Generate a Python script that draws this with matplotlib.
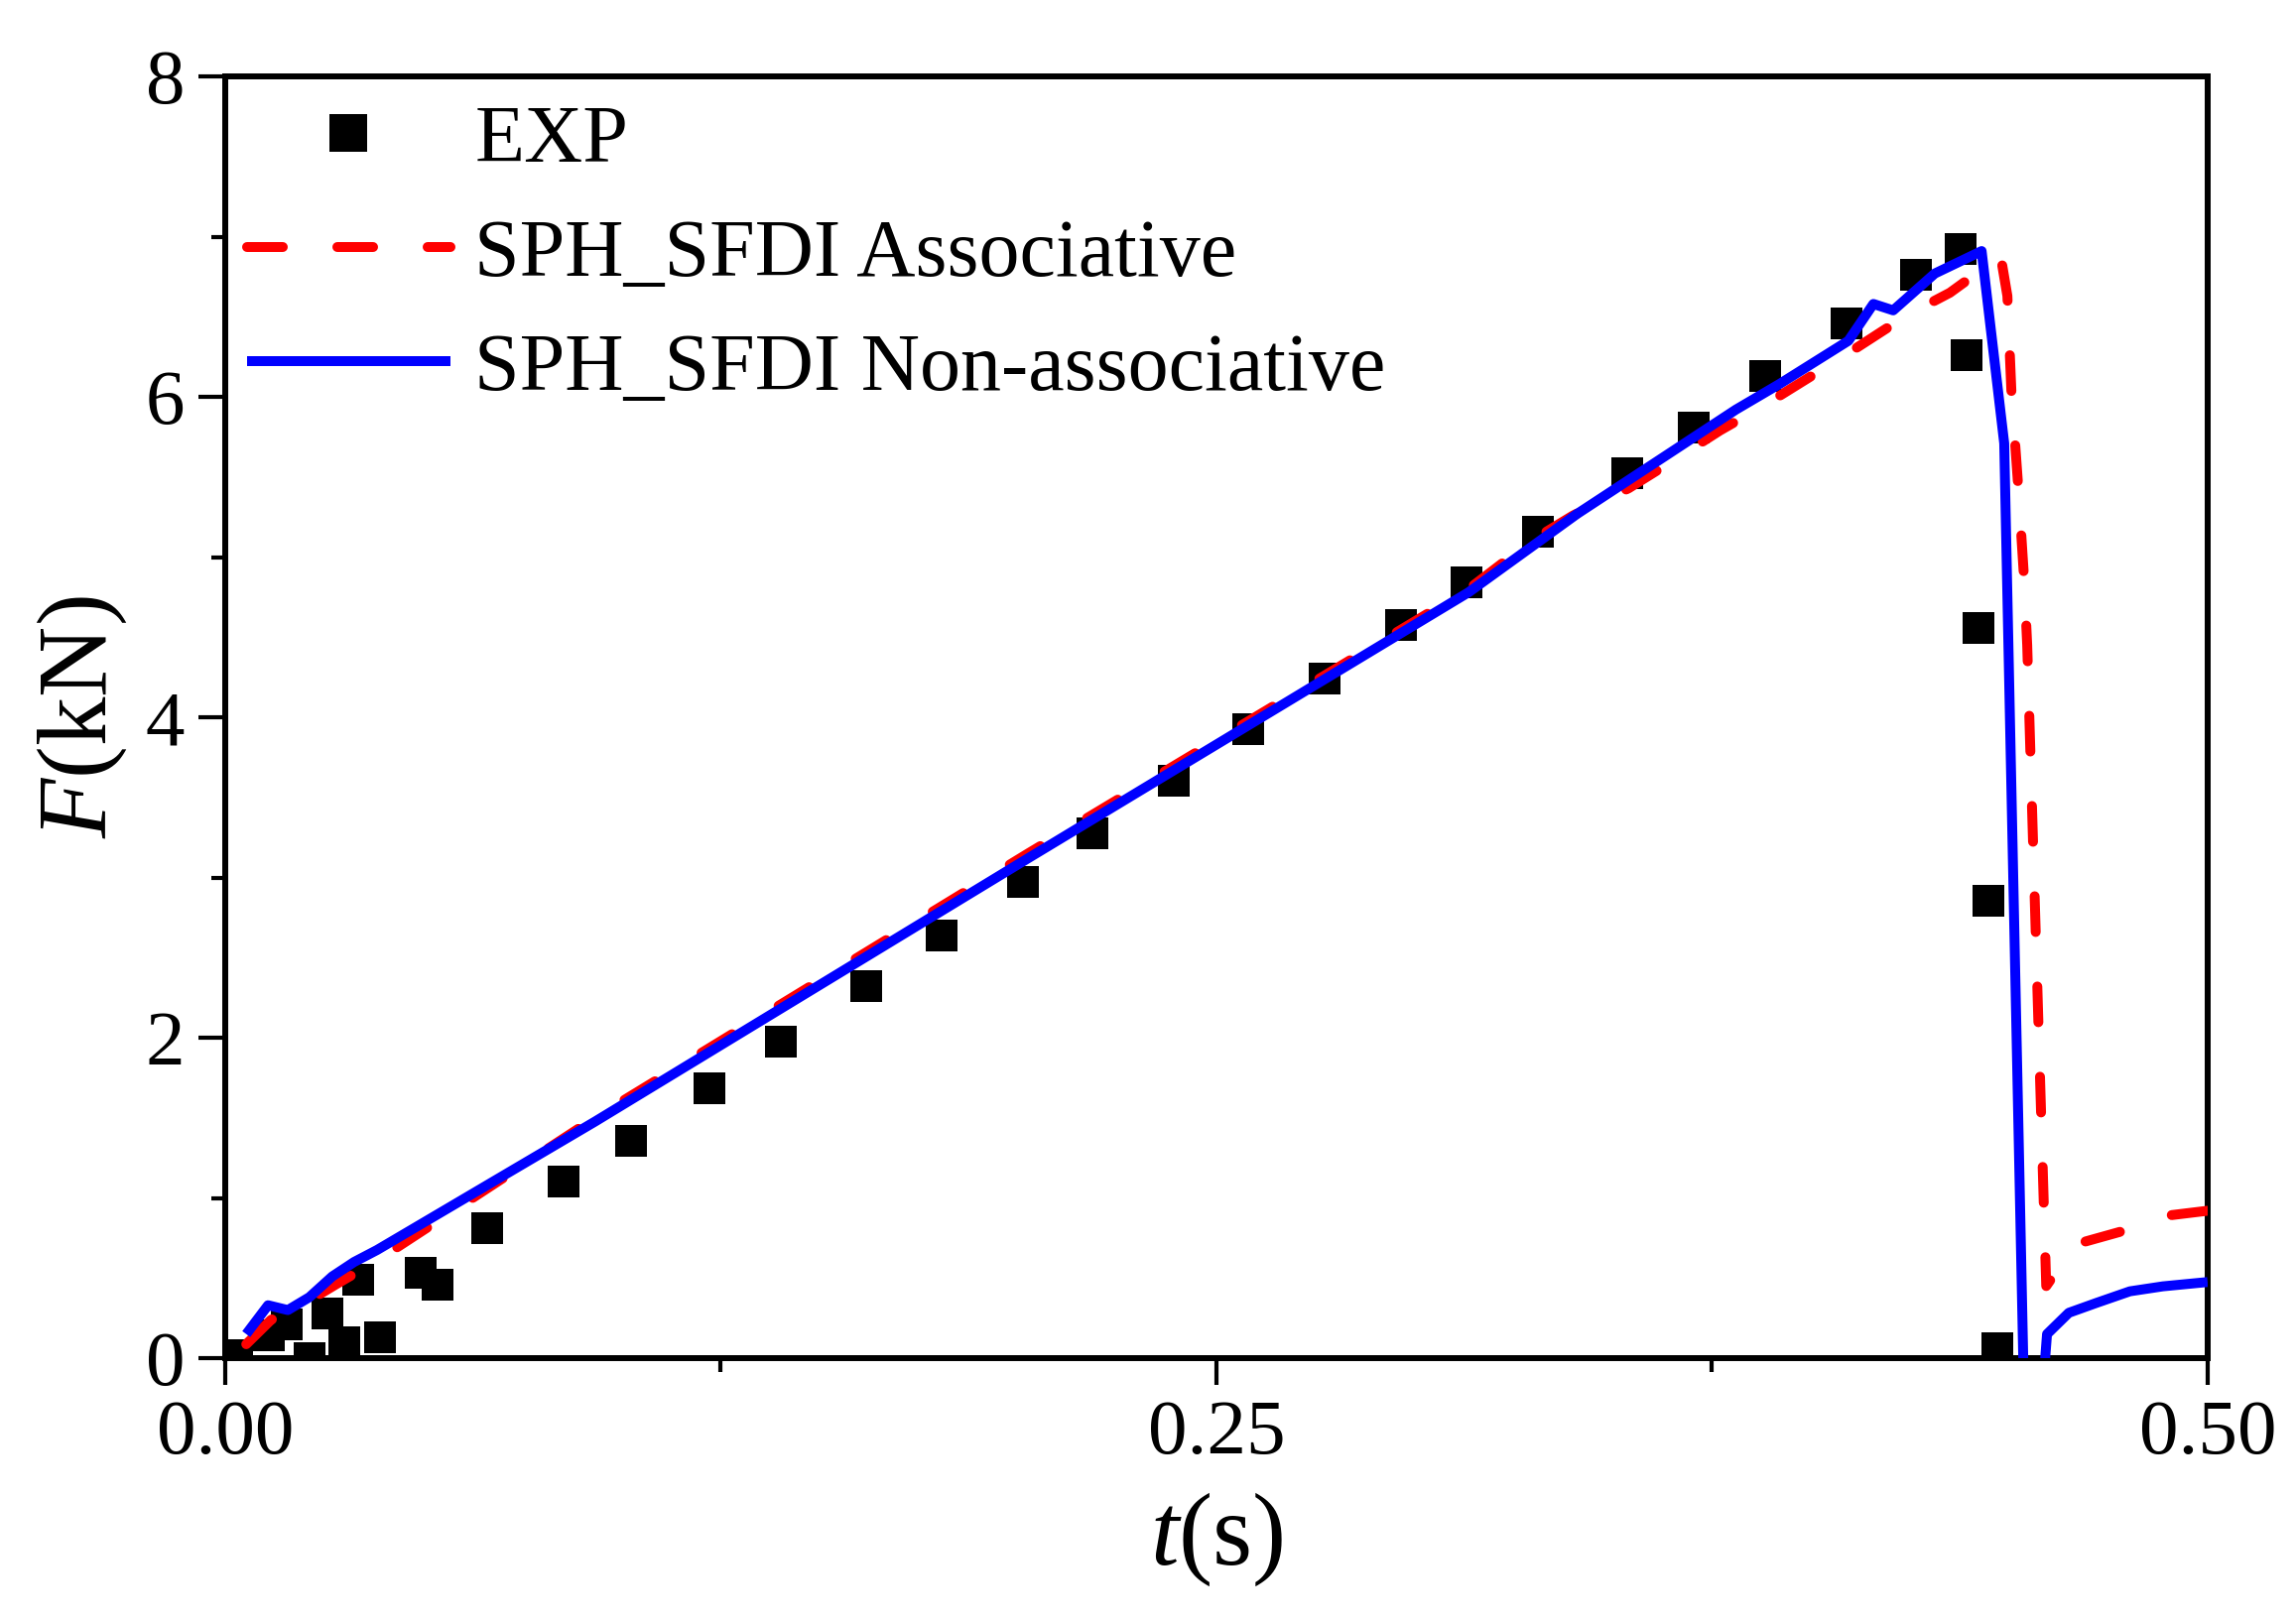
import matplotlib
matplotlib.use("Agg")
import matplotlib.pyplot as plt
from matplotlib.ticker import MultipleLocator, FormatStrFormatter

plt.rcParams['font.family'] = ['Liberation Serif', 'DejaVu Serif']
plt.rcParams['mathtext.fontset'] = 'custom'
plt.rcParams['mathtext.rm'] = 'Liberation Serif'
plt.rcParams['mathtext.it'] = 'Liberation Serif:italic'

# EXP points
t_exp = [0.003, 0.011, 0.0156, 0.0212, 0.0257, 0.0301, 0.0336, 0.039, 0.0494, 0.0536,
         0.0661, 0.0853, 0.1023, 0.1222, 0.1402, 0.1617, 0.1808, 0.2011, 0.2188, 0.2392,
         0.2581, 0.2774, 0.2965, 0.3131, 0.3312, 0.3537, 0.3704, 0.3885, 0.409, 0.4265,
         0.4377, 0.4391, 0.4423, 0.4448, 0.447]
f_exp = [0.02, 0.14, 0.21, 0.0, 0.28, 0.10, 0.49, 0.13, 0.53, 0.46,
         0.81, 1.10, 1.354, 1.684, 1.973, 2.321, 2.638, 2.970, 3.274, 3.604,
         3.924, 4.242, 4.573, 4.842, 5.16, 5.525, 5.81, 6.13, 6.46, 6.76,
         6.92, 6.26, 4.56, 2.856, 0.06]

# SPH_SFDI Associative
t_asso = [0.0053, 0.0116, 0.0158, 0.0279, 0.0383, 0.0933, 0.2025, 0.3136, 0.330, 0.340,
          0.354, 0.365, 0.377, 0.389, 0.4007, 0.4117, 0.4242, 0.435, 0.4478, 0.4495,
          0.4505, 0.4522, 0.4537, 0.4545, 0.4582, 0.4593, 0.4666, 0.4796, 0.4813, 0.49, 0.5]
f_asso = [0.087, 0.24, 0.28, 0.46, 0.61, 1.50, 3.15, 4.80, 5.11, 5.26,
          5.43, 5.60, 5.79, 5.96, 6.14, 6.31, 6.51, 6.65, 6.88, 6.63,
          6.04, 5.45, 4.87, 4.45, 1.36, 0.45, 0.71, 0.80, 0.815, 0.89, 0.92]

# SPH_SFDI Non-associative
t_non = [0.0053, 0.0108, 0.0158, 0.0212, 0.027, 0.0325, 0.0383, 0.0933, 0.2025, 0.3136,
         0.341, 0.381, 0.392, 0.4094, 0.4157, 0.4207, 0.4312, 0.443, 0.4487, 0.4535,
         0.4545, 0.4578, 0.4595, 0.465, 0.472, 0.4804, 0.4887, 0.4975, 0.5]
f_non = [0.15, 0.33, 0.30, 0.38, 0.51, 0.60, 0.675, 1.477, 3.12, 4.78,
         5.27, 5.92, 6.08, 6.35, 6.58, 6.54, 6.77, 6.91, 5.71, 0.0,
         -0.5, -0.4, 0.15, 0.283, 0.345, 0.417, 0.448, 0.469, 0.475]

fig = plt.figure(figsize=(23.14, 16.36), dpi=100)
ax = fig.add_axes([0.0981, 0.1632, 0.8634, 0.7897])

ax.plot(t_exp, f_exp, 's', color='black', ms=23, mew=0, label='EXP', zorder=2)
ax.plot(t_asso, f_asso, color='red', lw=7.2, dashes=(3.6, 5.5), dash_capstyle='round',
        solid_joinstyle='round', label='SPH_SFDI Associative', zorder=3)
ax.plot(t_non, f_non, color='blue', lw=7.2, solid_capstyle='butt', solid_joinstyle='round',
        label='SPH_SFDI Non-associative', zorder=4)

ax.set_xlim(0, 0.5)
ax.set_ylim(0, 8)
ax.xaxis.set_major_locator(MultipleLocator(0.25))
ax.xaxis.set_minor_locator(MultipleLocator(0.125))
ax.xaxis.set_major_formatter(FormatStrFormatter('%.2f'))
ax.yaxis.set_major_locator(MultipleLocator(2))
ax.yaxis.set_minor_locator(MultipleLocator(1))

for s in ax.spines.values():
    s.set_linewidth(4.3)
ax.tick_params(which='major', direction='out', length=19.5, width=3, labelsize=57, pad=10)
ax.tick_params(which='minor', direction='out', length=10, width=3)

ax.set_xlabel('$t$(s)', fontsize=74, labelpad=15)
ax.set_ylabel('$F$(kN)', fontsize=71, labelpad=12)

ax.legend(loc='upper left', bbox_to_anchor=(0.011, 0.978), frameon=False, fontsize=59,
          handlelength=2.5, handletextpad=0.3, labelspacing=0.48, borderpad=0,
          borderaxespad=0, markerscale=1.2)

fig.savefig('out.png', dpi=100)
